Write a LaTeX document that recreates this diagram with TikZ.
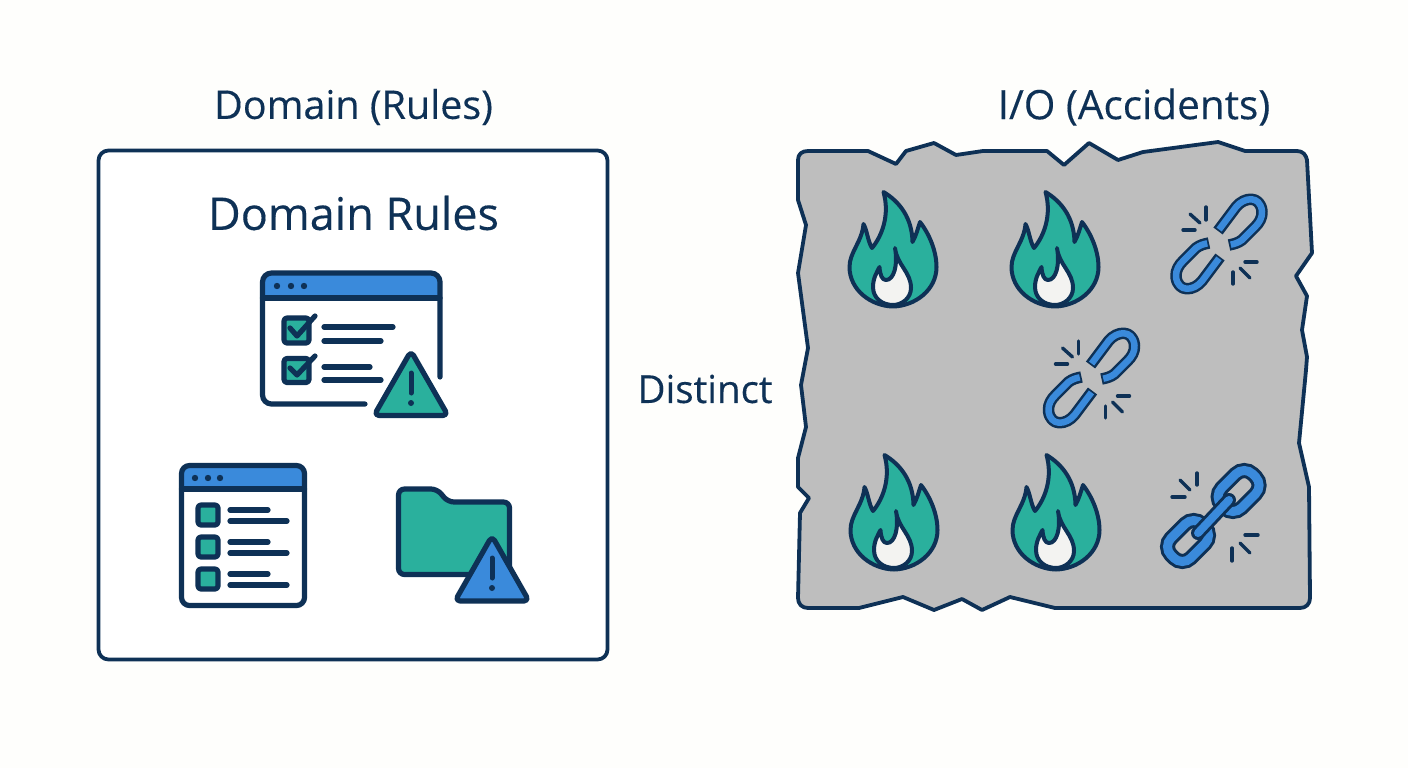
\documentclass[tikz,border=0pt]{standalone}
\usepackage{fontspec}
\setmainfont{Open Sans}[FakeBold=0.3]
\definecolor{navy}{HTML}{0E3156}
\definecolor{teal2}{HTML}{2AB09D}
\definecolor{blue2}{HTML}{3A8ADB}
\definecolor{stone}{HTML}{BEBEBE}
\definecolor{paper}{HTML}{FEFEFC}
\definecolor{ash}{HTML}{F3F3F1}
\newcommand{\twotone}[1]{%
  \draw[navy,line width=11.5pt,line join=round] #1;
  \draw[blue2,line width=6.5pt,line join=round,shorten >=1.8pt,shorten <=1.8pt] #1;}
\tikzset{
  ink/.style={draw=navy,line width=#1,line cap=round,line join=round},
  ink/.default=5.2pt,
  lbl/.style={text=navy,inner sep=0pt,font=\fontsize{#1}{#1}\selectfont},
  spark/.style={draw=navy,line width=3.4pt,line cap=round},
  brokenlink/.pic={
    \twotone{(58,46) -- (76,22) .. controls (84,12) and (100,10) .. (102,26) .. controls (102.5,33) and (99,38) .. (95,42) -- (82,55) .. controls (78,58) and (74,59) .. (69,60)}
    \twotone{(60,72) -- (42,96) .. controls (34,106) and (18,108) .. (16,92) .. controls (15.5,85) and (19,80) .. (23,76) -- (36,63) .. controls (40,60) and (44,59) .. (49,58)}
    \draw[spark] (30,29) -- (40,38);
    \draw[spark] (46,22) -- (46,35);
    \draw[spark] (23,45) -- (35,45);
    \draw[spark] (85,77) -- (97,77);
    \draw[spark] (80,83) -- (90,93);
    \draw[spark] (73,87) -- (73,99);
  },
  flameicon/.pic={
    \path[ink=4pt,fill=teal2] (43.5,12) .. controls (60,22) and (72,38) .. (72.5,62)
      .. controls (76,56) and (78,48) .. (80,42)
      .. controls (90,55) and (96.5,72) .. (96.5,87)
      .. controls (96.5,110) and (75,126) .. (53,126.5)
      .. controls (31,126) and (9.5,110) .. (9.5,87)
      .. controls (9.5,72) and (22,62) .. (23.5,44)
      .. controls (27,50) and (28,62) .. (32,68)
      .. controls (42,56) and (50,35) .. (43.5,12) -- cycle;
    \path[ink=4pt,fill=ash] (55,68) .. controls (57,85) and (71,92) .. (71,108)
      .. controls (71,118) and (62,125) .. (53,125)
      .. controls (42,125) and (33,118) .. (33,107)
      .. controls (33,98) and (37,92) .. (39.5,87)
      .. controls (40,95) and (42,100) .. (46,100)
      .. controls (54,100) and (58,85) .. (55,68) -- cycle;
  }
}
\begin{document}
\begin{tikzpicture}[x=1pt,y=-1pt]
\path[fill=paper] (0,0) rectangle (1408,768);
\useasboundingbox (0,0) rectangle (1408,768);

% titles
\node[lbl=39.5] (titleL) at (353.5,107) {Domain (Rules)};
\node[lbl=40.5] (titleR) at (1134,107) {I/O (Accidents)};
\node[lbl=38.5] (distinct) at (705,389) {Distinct};

% left frame
\draw[ink=3.8pt,rounded corners=10pt,fill=white] (98.5,150.5) rectangle (607.5,659.5);
\node[lbl=45] (inner) at (353.5,213) {Domain Rules};

% window with checks
\path[fill=white] (262.5,273) rectangle (440,404);
\path[fill=blue2,rounded corners=7pt] (262.5,273) -- (440,273) -- (440,298) -- (262.5,298) -- cycle;
\draw[ink,rounded corners=9pt] (365,404) -- (262.5,404) -- (262.5,273) -- (440,273) -- (440,377);
\draw[ink] (262.5,298) -- (440,298);
\foreach \px in {277,291,304} \fill[navy] (\px,286) circle (3.2pt);
\path[ink,fill=teal2,rounded corners=3pt] (284,318) rectangle (309,343);
\path[ink,fill=teal2,rounded corners=3pt] (284,358.5) rectangle (309,382.5);
\draw[ink] (290,328) -- (297,336) -- (315,316);
\draw[ink] (290,368) -- (297,375) -- (315,356);
\draw[ink] (324,327) -- (393,327);
\draw[ink] (324,341) -- (381,341);
\draw[ink] (324,367) -- (370,367);
\draw[ink] (324,380) -- (381,380);
\path[ink,fill=teal2,rounded corners=5pt] (411,351) -- (448,415.5) -- (374,415.5) -- cycle;
\draw[ink=5pt] (411,373) -- (411,393);
\fill[navy] (411,403) circle (3pt);

% window with empty boxes
\path[fill=white] (181.5,465.5) rectangle (304.5,605.5);
\path[fill=blue2,rounded corners=6pt] (181.5,465.5) -- (304.5,465.5) -- (304.5,489) -- (181.5,489) -- cycle;
\draw[ink,rounded corners=8pt] (181.5,465.5) rectangle (304.5,605.5);
\draw[ink] (181.5,489) -- (304.5,489);
\foreach \px in {195,208,220} \fill[navy] (\px,478) circle (3.2pt);
\foreach \py in {503,535,567} {
  \path[ink,fill=teal2,rounded corners=3pt] (198,\py+2) rectangle (218,\py+22);
  \draw[ink] (230,\py+7) -- (268,\py+7);
  \draw[ink] (230,\py+18) -- (287,\py+18);
}

% folder
\path[ink,fill=teal2,rounded corners=6pt] (398.5,489) -- (437,489) -- (448,502) -- (509.5,502) -- (509.5,574.5) -- (398.5,574.5) -- cycle;
\path[ink,fill=blue2,rounded corners=5pt] (492,536) -- (529,601) -- (455,601) -- cycle;
\draw[ink=5pt] (492,558) -- (492,578);
\fill[navy] (492,588) circle (3pt);

% torn sheet
\path[draw=navy,line width=3.8pt,fill=stone,line join=round]
  (798,160) .. controls (798,154) and (802,151) .. (808,151)
  -- (868,151) -- (896,164) -- (906,151) -- (934,143) -- (956,155) -- (983,151) -- (1047,151) -- (1064,165) -- (1089,143) -- (1118,160) -- (1143,152) -- (1218,142) -- (1245,151)
  -- (1297,151) .. controls (1303,151) and (1306,155) .. (1307,160)
  -- (1309,197) -- (1312,253) -- (1296,276) -- (1307,296) -- (1302,330) -- (1307,357) -- (1306,370) -- (1299,443) -- (1309,487)
  -- (1310,598) .. controls (1310,604) and (1306,608) .. (1300,608)
  -- (1055,608) -- (1010,597) -- (982,610) -- (962,599) -- (934,610) -- (903,597) -- (859,608)
  -- (808,608) .. controls (802,608) and (798,604) .. (798,598)
  -- (800,513) -- (809,498) -- (798,487) -- (798,458) -- (806,427) -- (801,385) -- (808,348) -- (798,273) -- (806,225) -- (798,200) -- cycle;

% flames
\pic at (840,180) {flameicon};
\pic at (1002,180) {flameicon};
\pic at (841,443) {flameicon};
\pic at (1003,443) {flameicon};

% broken links
\pic at (1160,185) {brokenlink};
\pic at (1032.5,319) {brokenlink};

% whole chain
\begin{scope}[shift={(1150,450)}]
  \begin{scope}[shift={(88.6,41)},rotate=45]
    \draw[navy,line width=15pt,rounded corners=12pt] (-22,-14) rectangle (22,14);
    \draw[blue2,line width=9pt,rounded corners=12pt] (-22,-14) rectangle (22,14);
  \end{scope}
  \begin{scope}[shift={(38,91)},rotate=45]
    \draw[navy,line width=15pt,rounded corners=12pt] (-22,-14) rectangle (22,14);
    \draw[blue2,line width=9pt,rounded corners=12pt] (-22,-14) rectangle (22,14);
  \end{scope}
  \draw[navy,line width=14pt,line cap=round] (48,83) -- (79,50);
  \draw[blue2,line width=8pt,line cap=round] (48,83) -- (79,50);
  \draw[spark] (30,30) -- (40,40);
  \draw[spark] (47,23) -- (47,35);
  \draw[spark] (22,47) -- (35,47);
  \draw[spark] (95,85) -- (108,85);
  \draw[spark] (90,93) -- (100,103);
  \draw[spark] (82,98) -- (82,111);
\end{scope}
\end{tikzpicture}
\end{document}
